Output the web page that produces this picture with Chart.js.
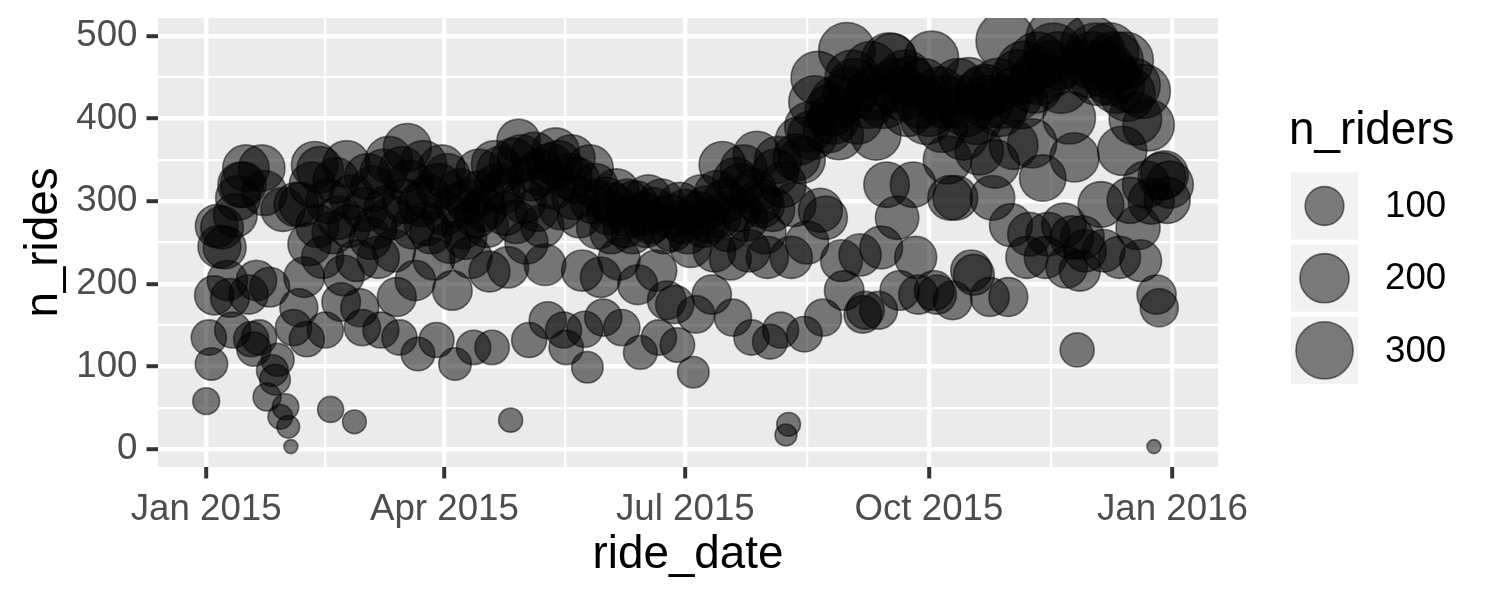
<!DOCTYPE html>
<html><head><meta charset="utf-8">
<script src="https://cdn.jsdelivr.net/npm/chart.js@4.4.1/dist/chart.umd.min.js"></script>
<style>html,body{margin:0;padding:0;background:#fff;}#wrap{width:1500px;height:600px;}</style>
</head><body><div id="wrap"><canvas id="c" width="1500" height="600"></canvas></div>
<script>
// ---------- DATA ----------
const startDate = '2015-01-01'; // one value per day from here
const nRides = [
58,135,103,186,270,245,268,
244,204,183,144,283,304,320,
320,340,187,133,121,204,135,
340,310,63,196,95,84,108,
39,290,51,27,3,147,296,
171,296,208,133,248,320,344,
270,338,232,144,300,48,262,
325,280,178,210,345,270,305,
33,228,171,147,290,330,255,
315,268,232,144,335,292,350,
280,240,184,135,338,300,365,
322,268,204,115,296,345,272,
305,262,230,132,318,340,285,
330,250,192,103,295,312,268,
255,300,232,123,282,335,310,
290,270,215,123,345,318,338,
312,285,220,35,348,275,373,
352,300,250,132,328,355,290,
335,270,223,156,342,318,360,
345,292,144,123,330,352,305,
325,282,216,145,99,340,300,
318,268,208,159,302,286,262,
295,312,230,147,270,300,282,
262,298,199,117,285,270,305,
275,290,216,135,300,262,180,
282,265,175,126,296,275,288,
262,245,93,163,285,305,270,
292,276,187,240,310,282,344,
300,265,230,159,325,290,318,
340,278,240,135,312,356,300,
295,262,232,130,290,335,350,
144,320,17,30,232,296,353,
373,350,139,250,390,380,420,
449,289,159,280,389,410,400,
420,380,228,192,482,430,450,
440,400,235,163,168,420,460,
430,380,168,244,420,320,470,
473,440,280,192,430,450,410,
446,320,232,187,420,440,400,
410,473,192,187,430,390,420,
350,304,180,304,440,420,380,
410,441,216,211,400,361,430,
433,420,184,304,345,440,410,
420,494,184,271,368,430,450,
420,460,232,260,370,440,470,
450,328,232,260,460,480,497,
470,440,271,220,401,256,353,
120,216,256,240,460,489,470,
480,450,296,240,460,480,450,
470,440,232,361,470,430,301,
440,400,268,228,433,320,392,
300,3,187,171,330,332,301,
320
];
const nRiders = [
28,74,56,102,135,135,134,
134,112,100,79,142,152,160,
160,170,103,73,66,112,74,
170,155,33,108,52,46,59,
20,145,26,14,2,81,148,
94,148,114,73,136,160,172,
135,170,128,79,150,25,131,
163,140,98,115,173,135,153,
17,125,94,81,145,165,128,
158,134,128,79,168,146,175,
140,132,101,74,169,150,186,
161,134,112,63,148,173,136,
153,131,126,73,159,170,143,
165,125,106,57,148,156,134,
128,150,128,68,141,168,155,
145,135,118,68,173,159,169,
156,143,121,18,174,138,140,
176,150,137,73,164,178,145,
168,135,123,86,171,159,180,
173,146,79,68,165,176,153,
163,141,119,80,51,170,150,
159,134,114,87,151,143,131,
148,156,126,81,135,150,141,
131,149,109,64,143,135,153,
138,145,119,74,150,131,99,
141,133,96,69,148,138,144,
131,123,51,90,143,153,135,
146,138,103,132,155,141,172,
150,133,126,87,163,145,159,
170,139,132,74,156,178,150,
148,131,128,72,145,168,175,
79,160,12,17,128,148,176,
186,175,76,137,210,200,240,
250,145,87,140,210,230,225,
240,200,125,106,290,250,260,
255,220,129,90,92,240,270,
250,210,92,134,240,160,280,
200,255,140,106,250,265,235,
200,160,128,103,240,255,230,
235,260,106,103,250,220,240,
190,152,99,152,255,240,210,
235,260,119,116,230,190,250,
250,240,101,152,190,260,235,
240,330,101,136,195,255,270,
250,280,128,143,200,270,300,
280,170,128,143,290,320,340,
310,280,149,121,240,141,200,
66,119,141,132,300,335,310,
320,290,163,132,300,330,290,
310,280,128,200,300,270,166,
270,240,147,125,260,176,225,
165,2,103,94,182,183,166,
176
];
const xTickDates = ['2015-01-01','2015-04-01','2015-07-01','2015-10-01','2016-01-01'];
const xTickLabels = ['Jan 2015','Apr 2015','Jul 2015','Oct 2015','Jan 2016'];
const yTickValues = [0,100,200,300,400,500];
const legendBreaks = [100,200,300];
const xTitle = 'ride_date';
const yTitle = 'n_rides';
const legendTitle = 'n_riders';

// ---------- helpers ----------
const DAY = 86400000;
const t0 = Date.parse(startDate + 'T00:00:00Z');
const dayOf = s => (Date.parse(s + 'T00:00:00Z') - t0) / DAY;
const xMajor = xTickDates.map(dayOf);
const xMinor = xMajor.slice(0, -1).map((v, i) => (v + xMajor[i + 1]) / 2);
const yMinor = yTickValues.slice(0, -1).map((v, i) => (v + yTickValues[i + 1]) / 2);

const points = nRides.map((v, i) => ({ x: i, y: v, n: nRiders[i] }));

const xs = points.map(p => p.x);
const xLo = Math.min(...xs), xHi = Math.max(...xs);
const yLo = Math.min(...nRides), yHi = Math.max(...nRides);
const xExp = (xHi - xLo) * 0.05, yExp = (yHi - yLo) * 0.05;

const nLo = Math.min(...nRiders), nHi = Math.max(...nRiders);
const R_MIN = 7, R_MAX = 30;
const sizeOf = n => R_MIN + (R_MAX - R_MIN) * Math.sqrt(Math.max(0, (n - nLo) / (nHi - nLo)));

const FONT = "'Liberation Sans', Arial, Helvetica, sans-serif";
const TICK_PX = 36.7, TITLE_PX = 45.8;
const PANEL = { left: 158, right: 1218, top: 18, bottom: 467 };

const isIn = (v, arr) => arr.some(a => Math.abs(a - v) < 1e-6);

const bgPlugin = {
  id: 'panelbg',
  beforeDraw(chart) {
    const { ctx, chartArea: a } = chart;
    ctx.save();
    ctx.fillStyle = '#EBEBEB';
    ctx.fillRect(a.left, a.top, a.right - a.left, a.bottom - a.top);
    ctx.restore();
  }
};

const decoPlugin = {
  id: 'deco',
  afterDraw(chart) {
    const { ctx } = chart;
    ctx.save();
    ctx.fillStyle = '#000';
    ctx.font = `${TITLE_PX}px ${FONT}`;
    ctx.textAlign = 'center';
    ctx.textBaseline = 'middle';
    ctx.fillText(xTitle, (PANEL.left + PANEL.right) / 2, 555);
    ctx.save();
    ctx.translate(44, (PANEL.top + PANEL.bottom) / 2);
    ctx.rotate(-Math.PI / 2);
    ctx.fillText(yTitle, 0, 0);
    ctx.restore();

    // legend
    const lx = 1291;
    ctx.textAlign = 'left';
    ctx.fillText(legendTitle, 1289, 131);
    legendBreaks.forEach((b, i) => {
      const top = 172.5 + i * 72.2, size = 67;
      ctx.fillStyle = '#F2F2F2';
      ctx.fillRect(lx, top, size, size);
      const cx = lx + size / 2, cy = top + size / 2;
      ctx.beginPath();
      ctx.arc(cx, cy, sizeOf(b), 0, Math.PI * 2);
      ctx.fillStyle = 'rgba(0,0,0,0.5)';
      ctx.fill();
      ctx.lineWidth = 1.6;
      ctx.strokeStyle = 'rgba(0,0,0,0.5)';
      ctx.stroke();
      ctx.fillStyle = '#000';
      ctx.font = `${TICK_PX}px ${FONT}`;
      ctx.fillText(String(b), 1385, cy + 1);
    });
    ctx.restore();
  }
};

const gridCommon = {
  color: '#FFFFFF',
  drawTicks: true,
  tickLength: 11.5,
};

new Chart(document.getElementById('c').getContext('2d'), {
  type: 'bubble',
  data: {
    datasets: [{
      data: points,
      backgroundColor: 'rgba(0,0,0,0.5)',
      borderColor: 'rgba(0,0,0,0.5)',
      borderWidth: 1.6,
      radius: c => sizeOf(c.raw ? c.raw.n : nLo),
      hoverRadius: 0,
      clip: 0
    }]
  },
  options: {
    responsive: false,
    animation: false,
    events: [],
    layout: { padding: { left: 0, right: 1500 - PANEL.right, top: PANEL.top, bottom: 0 }, autoPadding: false },
    plugins: { legend: { display: false }, tooltip: { enabled: false } },
    scales: {
      x: {
        type: 'linear',
        min: xLo - xExp, max: xHi + xExp,
        afterBuildTicks: s => { s.ticks = [...xMajor, ...xMinor].sort((a, b) => a - b).map(v => ({ value: v })); },
        afterFit: s => { s.height = 600 - PANEL.bottom; s.paddingLeft = 0; s.paddingRight = 0; s.paddingTop = 0; s.paddingBottom = 0; },
        border: { display: false },
        grid: Object.assign({}, gridCommon, {
          lineWidth: c => isIn(c.tick.value, xMajor) ? 4.4 : 2.2,
          tickColor: c => isIn(c.tick.value, xMajor) ? '#333333' : 'rgba(0,0,0,0)',
          tickWidth: 4
        }),
        ticks: {
          autoSkip: false, maxRotation: 0, minRotation: 0, padding: 9,
          color: '#4D4D4D', font: { family: FONT, size: TICK_PX },
          callback: v => { const k = xMajor.findIndex(m => Math.abs(m - v) < 1e-6); return k >= 0 ? xTickLabels[k] : ''; }
        }
      },
      y: {
        min: yLo - yExp, max: yHi + yExp,
        afterBuildTicks: s => { s.ticks = [...yTickValues, ...yMinor].sort((a, b) => a - b).map(v => ({ value: v })); },
        afterFit: s => { s.width = PANEL.left; s.paddingTop = 0; s.paddingBottom = 0; s.paddingLeft = 0; s.paddingRight = 0; },
        border: { display: false },
        grid: Object.assign({}, gridCommon, {
          lineWidth: c => isIn(c.tick.value, yTickValues) ? 4.4 : 2.2,
          tickColor: c => isIn(c.tick.value, yTickValues) ? '#333333' : 'rgba(0,0,0,0)',
          tickWidth: 4
        }),
        ticks: {
          autoSkip: false, padding: 9,
          color: '#4D4D4D', font: { family: FONT, size: TICK_PX },
          callback: v => isIn(v, yTickValues) ? String(v) : ''
        }
      }
    }
  },
  plugins: [bgPlugin, decoPlugin]
});
</script>
</body></html>
